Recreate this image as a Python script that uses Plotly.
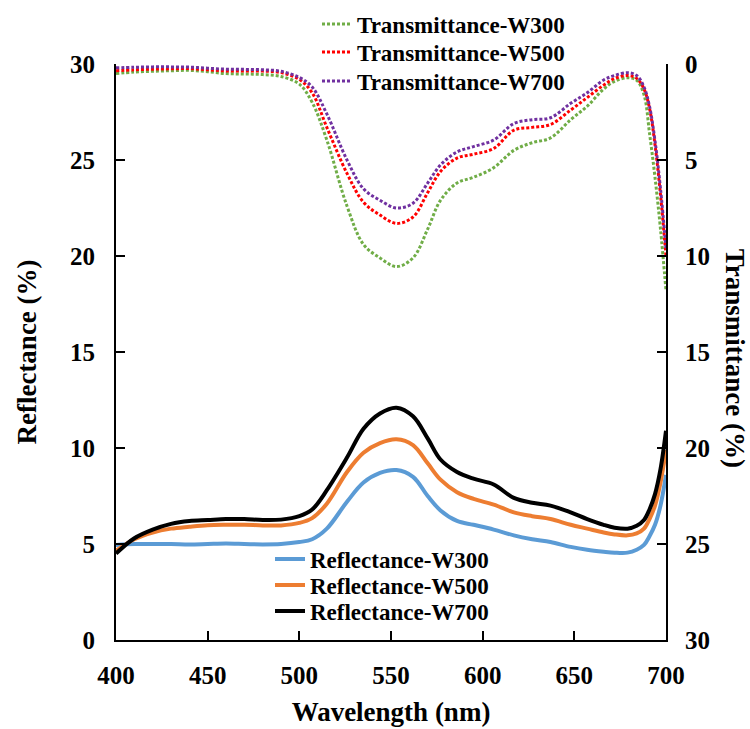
import plotly.graph_objects as go

wavelength = [400, 410, 420, 430, 440, 450, 460, 470, 480, 490, 500, 507, 515, 526, 535, 544,
              553, 562, 570, 577, 586, 595, 606, 617, 627, 637, 648, 657, 666, 672, 679, 684,
              688, 691, 694, 697, 700]

refl_w300 = [4.95, 5.0, 5.0, 5.0, 4.98, 5.0, 5.02, 5.0, 4.98, 5.0, 5.1, 5.25, 5.8, 7.2, 8.2, 8.7,
             8.85, 8.5, 7.5, 6.75, 6.2, 6.0, 5.75, 5.45, 5.25, 5.1, 4.85, 4.7, 4.6, 4.55, 4.55, 4.7,
             4.95, 5.4, 6.0, 7.0, 8.6]
refl_w500 = [4.65, 5.25, 5.6, 5.8, 5.9, 5.98, 6.0, 6.0, 5.97, 5.97, 6.1, 6.35, 7.1, 8.75, 9.75, 10.25,
             10.45, 10.15, 9.2, 8.35, 7.7, 7.35, 7.05, 6.65, 6.45, 6.3, 6.0, 5.8, 5.6, 5.5, 5.45, 5.55,
             5.8, 6.3, 7.0, 8.2, 9.9]
refl_w700 = [4.5, 5.3, 5.75, 6.05, 6.2, 6.25, 6.3, 6.3, 6.25, 6.27, 6.45, 6.8, 7.8, 9.5, 11.0, 11.8,
             12.1, 11.65, 10.5, 9.4, 8.75, 8.4, 8.1, 7.4, 7.15, 7.0, 6.65, 6.3, 6.0, 5.85, 5.8, 5.95,
             6.25, 6.8, 7.6, 8.9, 10.9]

trans_w300 = [0.5, 0.42, 0.38, 0.35, 0.33, 0.4, 0.5, 0.52, 0.55, 0.65, 1.05, 2.0, 3.96, 7.4, 9.4, 10.1,
              10.55, 10.1, 8.6, 7.1, 6.2, 5.9, 5.4, 4.5, 4.1, 3.85, 2.9, 2.2, 1.3, 0.9, 0.72, 0.85,
              1.6, 3.6, 5.9, 8.6, 11.8]
trans_w500 = [0.35, 0.3, 0.27, 0.25, 0.24, 0.3, 0.36, 0.37, 0.37, 0.45, 0.8, 1.5, 3.3, 5.7, 7.2, 7.87,
              8.3, 7.97, 6.7, 5.6, 4.9, 4.7, 4.4, 3.45, 3.3, 3.15, 2.4, 1.75, 1.1, 0.75, 0.6, 0.75,
              1.3, 2.3, 4.2, 6.8, 10.0]
trans_w700 = [0.2, 0.17, 0.15, 0.15, 0.16, 0.22, 0.27, 0.28, 0.3, 0.38, 0.7, 1.2, 2.6, 5.0, 6.5, 7.1,
              7.5, 7.25, 6.2, 5.26, 4.58, 4.3, 3.96, 3.1, 2.9, 2.8, 2.05, 1.5, 0.83, 0.6, 0.45, 0.6,
              1.2, 2.2, 4.0, 6.5, 9.6]

x_ticks = [400, 450, 500, 550, 600, 650, 700]
y_ticks = [0, 5, 10, 15, 20, 25, 30]

FONT = "Liberation Serif"
W, H = 750, 729
L, R, T, B = 116, 84, 64, 89
PW, PH = W - L - R, H - T - B

fig = go.Figure()

trans_series = [
    ("Transmittance-W300", trans_w300, "#70AD47", "legend"),
    ("Transmittance-W500", trans_w500, "#FF0000", "legend2"),
    ("Transmittance-W700", trans_w700, "#7030A0", "legend3"),
]
refl_series = [
    ("Reflectance-W300", refl_w300, "#5B9BD5", "legend4"),
    ("Reflectance-W500", refl_w500, "#ED7D31", "legend5"),
    ("Reflectance-W700", refl_w700, "#000000", "legend6"),
]

for name, vals, col, lg in trans_series:
    fig.add_trace(go.Scatter(x=wavelength, y=vals, name=name, mode="lines", yaxis="y2",
                             line=dict(color=col, width=3, dash="3px,2px", shape="spline", smoothing=1.0),
                             legend=lg))
for name, vals, col, lg in refl_series:
    fig.add_trace(go.Scatter(x=wavelength, y=vals, name=name, mode="lines", yaxis="y",
                             line=dict(color=col, width=4, shape="spline", smoothing=1.0),
                             legend=lg))

legend_font = dict(family=FONT, size=23, color="black", weight="bold")
t_rows = [24, 52, 81]
r_rows = [559, 585, 611]


def px_to_paper(xp, yp):
    return (xp - L) / PW, 1 - (yp - T) / PH


legends = {}
for i, yy in enumerate(t_rows):
    key = "legend" if i == 0 else f"legend{i+1}"
    lx, ly = px_to_paper(317, yy)
    legends[key] = dict(x=lx, y=ly, xanchor="left", yanchor="middle", font=legend_font,
                        bgcolor="rgba(0,0,0,0)", borderwidth=0, itemwidth=30)
for i, yy in enumerate(r_rows):
    key = f"legend{i+4}"
    lx, ly = px_to_paper(270, yy)
    legends[key] = dict(x=lx, y=ly, xanchor="left", yanchor="middle", font=legend_font,
                        bgcolor="rgba(0,0,0,0)", borderwidth=0, itemwidth=30)

axis_common = dict(showline=True, linecolor="black", linewidth=2, ticks="inside", ticklen=9,
                   tickwidth=2, tickcolor="black", showgrid=False, zeroline=False, automargin=False)

fig.update_layout(
    width=W, height=H,
    margin=dict(l=L, r=R, t=T, b=B, autoexpand=False),
    paper_bgcolor="white", plot_bgcolor="white",
    showlegend=True,
    xaxis=dict(range=[400, 700], tickvals=x_ticks, ticklabelstandoff=12,
               tickfont=dict(family=FONT, size=25, color="black", weight="bold"),
               title=dict(text="Wavelength (nm)", standoff=14,
                          font=dict(family=FONT, size=27, color="black", weight="bold")),
               **axis_common),
    yaxis=dict(range=[0, 30], tickvals=y_ticks, ticklabelstandoff=14,
               tickfont=dict(family=FONT, size=25, color="black", weight="bold"),
               title=dict(text="Reflectance (%)", standoff=26,
                          font=dict(family=FONT, size=27, color="black", weight="bold")),
               **axis_common),
    yaxis2=dict(range=[30, 0], tickvals=y_ticks, overlaying="y", side="right", ticklabelstandoff=12,
                tickfont=dict(family=FONT, size=25, color="black", weight="bold"),
                **axis_common),
    annotations=[dict(text="Transmittance (%)", xref="paper", yref="paper", x=(735 - L) / PW,
                      y=0.49, showarrow=False, textangle=90, xanchor="center", yanchor="middle",
                      font=dict(family=FONT, size=27, color="black", weight="bold"))],
    **legends,
)

fig.write_html("out.html")
